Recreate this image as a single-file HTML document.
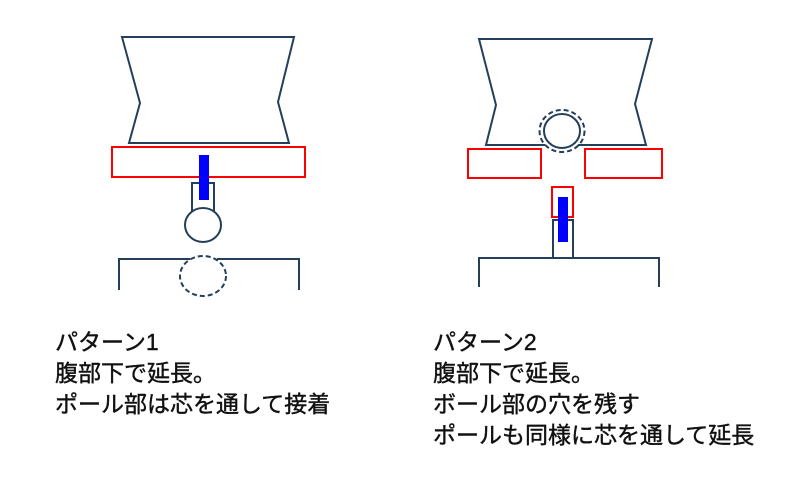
<!DOCTYPE html>
<html><head><meta charset="utf-8"><style>
html,body{margin:0;padding:0;background:#fff;width:792px;height:477px;overflow:hidden}
.t{position:absolute;font-family:"Liberation Sans","Noto Sans CJK JP",sans-serif;font-size:23px;line-height:31px;color:#111;white-space:nowrap;-webkit-text-stroke:0.4px #111}
</style></head><body>
<svg width="792" height="477" style="position:absolute;left:0;top:0">
<g fill="none" stroke="#243f5a" stroke-width="2">
<polygon points="122,37 294,37 278,102 289,143 129,143 140,103"/>
<rect x="192" y="183" width="22" height="30" fill="#fff"/>
<ellipse cx="203" cy="225" rx="18" ry="17" fill="#fff"/>
<polyline points="119,290 119,259 190,259"/>
<polyline points="217,259 299,259 299,290"/>
<ellipse cx="203" cy="276" rx="23" ry="20" stroke-dasharray="5,3"/>
<polyline points="545,145 486,145 496,105 479,39 652,39 635,104 646,145 578,145"/>
<ellipse cx="562" cy="131" rx="18" ry="17"/>
<ellipse cx="562" cy="131" rx="22.5" ry="21" stroke-dasharray="5,3"/>
<rect x="553" y="220" width="20" height="38"/>
<polyline points="479,287 479,258 659,258 659,287"/>
</g>
<g fill="none" stroke="#f00" stroke-width="2">
<rect x="112" y="147" width="193" height="30"/>
<rect x="468" y="149" width="73" height="29"/>
<rect x="585" y="149" width="77" height="29"/>
<rect x="552" y="187" width="21" height="30"/>
</g>
<rect x="199" y="155" width="10" height="45" fill="#00f"/>
<rect x="558" y="197" width="10" height="45" fill="#00f"/>
</svg>
<div class="t" style="left:55px;top:327px">パターン1<br>腹部下で延長。<br>ポール部は芯を通して接着</div>
<div class="t" style="left:433px;top:327px">パターン2<br>腹部下で延長。<br>ボール部の穴を残す<br>ポールも同様に芯を通して延長</div>
</body></html>
